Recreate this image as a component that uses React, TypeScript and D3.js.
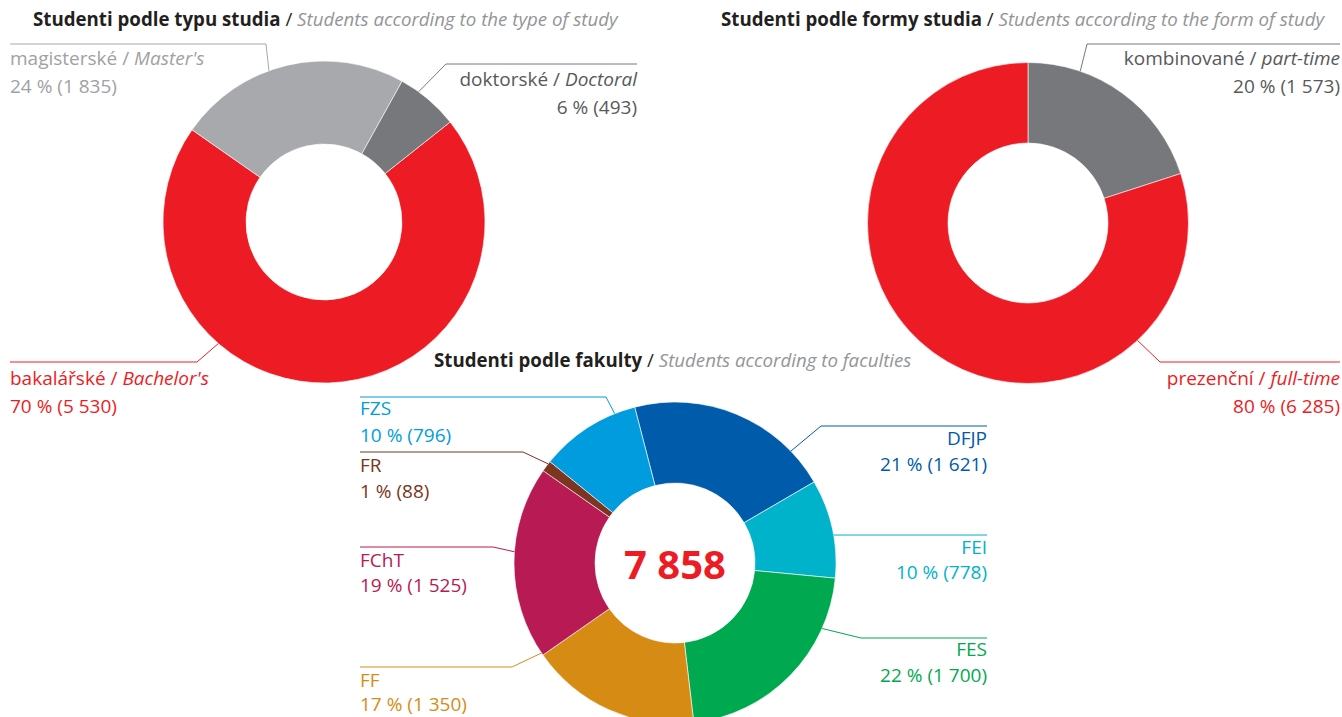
import React from "react";
import * as d3 from "d3";

// ---------- data ----------
const typeCategories = ["bakalářské", "magisterské", "doktorské"];
const typeCategoriesEn = ["Bachelor's", "Master's", "Doctoral"];
const typeValues = [5530, 1835, 493];
const typePercents = [70, 24, 6];

const formCategories = ["kombinované", "prezenční"];
const formCategoriesEn = ["part-time", "full-time"];
const formValues = [1573, 6285];
const formPercents = [20, 80];

const facultyCategories = ["DFJP", "FEI", "FES", "FF", "FChT", "FR", "FZS"];
const facultyValues = [1621, 778, 1700, 1350, 1525, 88, 796];
const facultyPercents = [21, 10, 22, 17, 19, 1, 10];
const totalStudents = 7858;

// ---------- styles / layout ----------
const FONT = "'Open Sans', 'Noto Sans', sans-serif";
const RED = "#ED1C24";
const typeColors = [RED, "#A7A9AC", "#77787B"];
const typeTextColors = [RED, "#9FA1A4", "#58595B"];
const formColors = ["#77787B", RED];
const formTextColors = ["#58595B", RED];
const facultyColors = ["#005BAA", "#00B2CA", "#00A94F", "#D68C14", "#B81A54", "#7B3520", "#009CDE"];

const LABEL_SIZE = 19;
const TITLE_SIZE = 18.7;

const typeLabelLayout = [
  { angle: 221, ex: 197, ey: 362, endX: 10, y1: 385, y2: 413 },
  { angle: 340, ex: 266, ey: 44, endX: 10, y1: 65, y2: 93 },
  { angle: 36, ex: 446, ey: 64, endX: 637, y1: 86, y2: 114 },
];
const formLabelLayout = [
  { angle: 19, ex: 1087, ey: 44, endX: 1340, y1: 65, y2: 93 },
  { angle: 137, ex: 1160, ey: 362, endX: 1340, y1: 385, y2: 413 },
];
const facultyLabelLayout = [
  { angle: 46, ex: 821, ey: 426, endX: 987, y1: 445, y2: 471 },
  { angle: 80, ex: null, ey: null, endX: 987, y1: 554, y2: 579 },
  { angle: 114, ex: 861, ey: 638, endX: 987, y1: 656, y2: 682 },
  { angle: 236, ex: 512, ey: 667, endX: 360, y1: 687, y2: 711 },
  { angle: 274, ex: 493, ey: 547, endX: 360, y1: 567, y2: 592 },
  { angle: 308, ex: 523, ey: 452, endX: 360, y1: 472, y2: 498 },
  { angle: 338, ex: 606, ey: 397, endX: 360, y1: 415, y2: 442 },
];

const csLocale = d3.formatLocale({ decimal: ",", thousands: " ", grouping: [3], currency: ["", ""] });
const fmt = csLocale.format(",d");

type LabelLayout = { angle: number; ex: number | null; ey: number | null; endX: number; y1: number; y2: number };

function Donut(props: {
  cx: number;
  cy: number;
  rOuter: number;
  rInner: number;
  startDeg: number;
  values: number[];
  colors: string[];
  textColors: string[];
  names: string[];
  namesEn: string[] | null;
  percents: number[];
  layout: LabelLayout[];
  fontSize: number;
}) {
  const { cx, cy, rOuter, rInner, startDeg, values, colors, textColors, names, namesEn, percents, layout, fontSize } = props;
  const start = (startDeg * Math.PI) / 180;
  const pie = d3
    .pie<number>()
    .sort(null)
    .value((d) => d)
    .startAngle(start)
    .endAngle(start + 2 * Math.PI);
  const arcs = pie(values);
  const arc = d3.arc<d3.PieArcDatum<number>>().innerRadius(rInner).outerRadius(rOuter);
  return (
    <g>
      <g transform={`translate(${cx},${cy})`}>
        {arcs.map((a, i) => (
          <path key={i} d={arc(a) || ""} fill={colors[i]} stroke="#ffffff" strokeWidth={0.6} />
        ))}
      </g>
      {layout.map((l, i) => {
        const rad = (l.angle * Math.PI) / 180;
        const ax = cx + rOuter * Math.sin(rad);
        const ay = cy - rOuter * Math.cos(rad);
        const ex = l.ex == null ? ax : l.ex;
        const ey = l.ey == null ? ay : l.ey;
        const leftSide = l.endX < ex;
        const anchor = leftSide ? "start" : "end";
        return (
          <g key={i}>
            <polyline
              points={`${ax},${ay} ${ex},${ey} ${l.endX},${ey}`}
              fill="none"
              stroke={colors[i]}
              strokeWidth={1}
            />
            <text x={l.endX} y={l.y1} textAnchor={anchor} fill={textColors[i]} fontSize={fontSize} fontFamily={FONT}>
              {names[i]}
              {namesEn ? (
                <>
                  <tspan> / </tspan>
                  <tspan fontStyle="italic">{namesEn[i]}</tspan>
                </>
              ) : null}
            </text>
            <text x={l.endX} y={l.y2} textAnchor={anchor} fill={textColors[i]} fontSize={fontSize} fontFamily={FONT}>
              {`${percents[i]} % (${fmt(values[i])})`}
            </text>
          </g>
        );
      })}
    </g>
  );
}

function Title(props: { x: number; y: number; bold: string; italic: string }) {
  return (
    <text x={props.x} y={props.y} fontSize={TITLE_SIZE} fontFamily={FONT} fill="#231F20">
      <tspan fontWeight="bold">{props.bold}</tspan>
      <tspan> / </tspan>
      <tspan fontStyle="italic" fill="#939598">
        {props.italic}
      </tspan>
    </text>
  );
}

export default function App() {
  return (
    <svg
      width={1342}
      height={717}
      viewBox="0 0 1342 717"
      style={{ position: "absolute", left: 0, top: 0, background: "#ffffff" }}
    >
      <rect x={0} y={0} width={1342} height={717} fill="#ffffff" />
      <Title x={33} y={26} bold="Studenti podle typu studia" italic="Students according to the type of study" />
      <Title x={721} y={26} bold="Studenti podle formy studia" italic="Students according to the form of study" />
      <Title x={434} y={367} bold="Studenti podle fakulty" italic="Students according to faculties" />

      <Donut
        cx={324}
        cy={222}
        rOuter={161}
        rInner={78}
        startDeg={51.6}
        values={typeValues}
        colors={typeColors}
        textColors={typeTextColors}
        names={typeCategories}
        namesEn={typeCategoriesEn}
        percents={typePercents}
        layout={typeLabelLayout}
        fontSize={LABEL_SIZE}
      />
      <Donut
        cx={1028}
        cy={223}
        rOuter={160.5}
        rInner={80}
        startDeg={0}
        values={formValues}
        colors={formColors}
        textColors={formTextColors}
        names={formCategories}
        namesEn={formCategoriesEn}
        percents={formPercents}
        layout={formLabelLayout}
        fontSize={LABEL_SIZE}
      />
      <Donut
        cx={675}
        cy={563}
        rOuter={161}
        rInner={80}
        startDeg={-14.5}
        values={facultyValues}
        colors={facultyColors}
        textColors={facultyColors}
        names={facultyCategories}
        namesEn={null}
        percents={facultyPercents}
        layout={facultyLabelLayout}
        fontSize={LABEL_SIZE}
      />
      <text
        x={675}
        y={563}
        textAnchor="middle"
        dominantBaseline="central"
        fontSize={40}
        fontWeight="bold"
        fontFamily={FONT}
        fill={RED}
      >
        {fmt(totalStudents)}
      </text>
    </svg>
  );
}
